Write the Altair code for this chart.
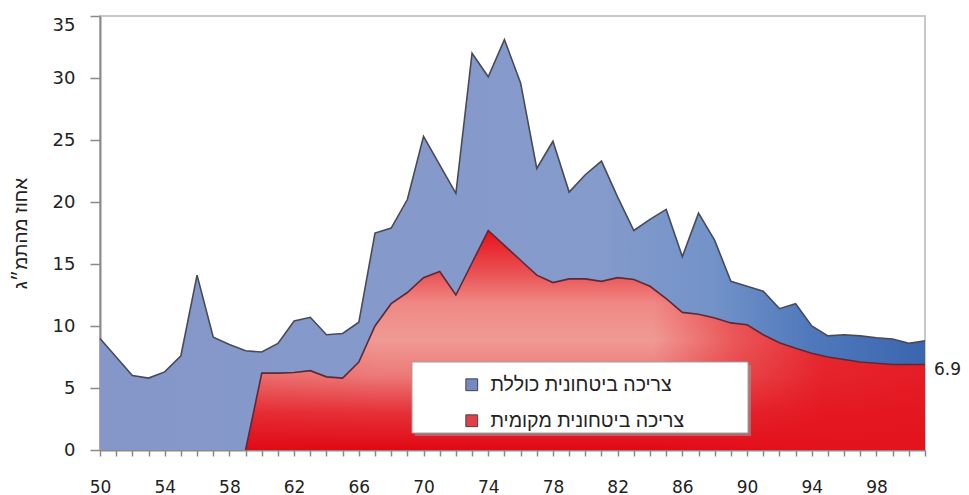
import altair as alt
import pandas as pd

# ---------------- data ----------------
years = [1950, 1951, 1952, 1953, 1954, 1955, 1956, 1957, 1958, 1959,
         1960, 1961, 1962, 1963, 1964, 1965, 1966, 1967, 1968, 1969,
         1970, 1971, 1972, 1973, 1974, 1975, 1976, 1977, 1978, 1979,
         1980, 1981, 1982, 1983, 1984, 1985, 1986, 1987, 1988, 1989,
         1990, 1991, 1992, 1993, 1994, 1995, 1996, 1997, 1998, 1999,
         2000, 2001]

# total defence consumption (% of GDP)
total = [9.0, 7.5, 6.0, 5.8, 6.3, 7.6, 14.1, 9.1, 8.5, 8.0,
         7.9, 8.6, 10.4, 10.7, 9.3, 9.4, 10.3, 17.5, 17.9, 20.2,
         25.3, 23.0, 20.7, 32.0, 30.1, 33.1, 29.6, 22.7, 24.9, 20.8,
         22.2, 23.3, 20.4, 17.7, 18.6, 19.4, 15.6, 19.1, 16.9, 13.6,
         13.2, 12.8, 11.4, 11.8, 10.0, 9.2, 9.3, 9.2, 9.05, 8.95,
         8.6, 8.8]

# local defence consumption (% of GDP)
local = [None, None, None, None, None, None, None, None, None, 0.0,
         6.2, 6.2, 6.25, 6.4, 5.9, 5.8, 7.1, 10.0, 11.8, 12.7,
         13.9, 14.4, 12.5, 15.1, 17.7, 16.5, 15.3, 14.1, 13.5, 13.8,
         13.8, 13.6, 13.9, 13.75, 13.2, 12.2, 11.1, 10.95, 10.65, 10.25,
         10.1, 9.3, 8.65, 8.2, 7.8, 7.5, 7.3, 7.1, 7.0, 6.9,
         6.9, 6.9]

series_names = ["צריכה ביטחונית כוללת", "צריכה ביטחונית מקומית"]
series_colors = ["#7489c0", "#e04048"]
x_label_years = [1950, 1954, 1958, 1962, 1966, 1970, 1974, 1978, 1982,
                 1986, 1990, 1994, 1998]
y_ticks = [0, 5, 10, 15, 20, 25, 30, 35]
y_title = "אחוז מהתמ״ג"
end_label = "6.9"

# ---------------- tables ----------------
df = pd.DataFrame({"year": years, "total": total, "local": local})
df_local = df.dropna(subset=["local"])
long_rows = []
for y_, t_, l_ in zip(years, total, local):
    long_rows.append({"year": y_, "value": t_, "series": series_names[0]})
    if l_ is not None:
        long_rows.append({"year": y_, "value": l_, "series": series_names[1]})
df_long = pd.DataFrame(long_rows)
df_end = pd.DataFrame({"year": [years[-1]], "local": [local[-1]], "label": [end_label]})

# ---------------- scales / axes ----------------
label_expr = ("indexof([" + ",".join(str(v) for v in x_label_years) +
              "], datum.value) >= 0 ? slice(toString(datum.value), 2) : ''")

x_axis = alt.Axis(values=years, labelExpr=label_expr, grid=False, title=None,
                  tickSize=6, tickColor="#8a8a8a", tickWidth=1.5,
                  domainColor="#8a8a8a", domainWidth=2,
                  labelFont="DejaVu Sans", labelFontSize=17, labelColor="#222222",
                  labelPadding=23, labelFlush=False, labelOverlap=False)
y_axis = alt.Axis(values=y_ticks, grid=False, title=y_title,
                  tickSize=10, tickColor="#8a8a8a", tickWidth=1.5,
                  domainColor="#8a8a8a", domainWidth=2,
                  labelFont="DejaVu Sans", labelFontSize=18, labelColor="#222222",
                  labelPadding=15,
                  labelBaseline={"condition": {"test": f"datum.value == {y_ticks[-1]}",
                                               "value": "top"},
                                 "value": "middle"},
                  titleFont="Liberation Sans", titleFontSize=19, titleFontWeight="normal",
                  titleColor="#222222", titleAngle=-90, titleX=-80, titleY=217,
                  titleAlign="center", titleBaseline="middle")

x_scale = alt.Scale(domain=[years[0], years[-1]], nice=False, zero=False)
y_scale = alt.Scale(domain=[0, 35], nice=False)

X = alt.X("year:Q", scale=x_scale, axis=x_axis)

blue_grad = alt.LinearGradient(
    gradient="linear", x1=0, y1=0, x2=1, y2=0,
    stops=[alt.GradientStop(offset=0, color="#8597c9"),
           alt.GradientStop(offset=0.6, color="#859bcb"),
           alt.GradientStop(offset=0.74, color="#7393c9"),
           alt.GradientStop(offset=0.86, color="#5079bc"),
           alt.GradientStop(offset=1, color="#3a66b0")])

red_vgrad = alt.LinearGradient(
    gradient="linear", x1=0, y1=0, x2=0, y2=1,
    stops=[alt.GradientStop(offset=0, color="#e8101c"),
           alt.GradientStop(offset=0.2, color="#ea5456"),
           alt.GradientStop(offset=0.33, color="#ef8884"),
           alt.GradientStop(offset=0.5, color="#f09a94"),
           alt.GradientStop(offset=0.66, color="#ec7a78"),
           alt.GradientStop(offset=0.83, color="#e53038"),
           alt.GradientStop(offset=1, color="#e00814")])

red_hgrad = alt.LinearGradient(
    gradient="linear", x1=0, y1=0, x2=1, y2=0,
    stops=[alt.GradientStop(offset=0, color="rgba(228,20,30,0.15)"),
           alt.GradientStop(offset=0.2, color="rgba(228,20,30,0)"),
           alt.GradientStop(offset=0.6, color="rgba(228,20,30,0)"),
           alt.GradientStop(offset=0.72, color="rgba(228,20,30,0.5)"),
           alt.GradientStop(offset=0.85, color="rgba(228,20,30,0.85)"),
           alt.GradientStop(offset=1, color="rgba(228,20,30,0.92)")])

base = alt.Chart(df)

blue_area = base.mark_area(fill=blue_grad, line=False).encode(
    x=X, y=alt.Y("total:Q", scale=y_scale, axis=y_axis, stack=None))
blue_line = base.mark_line(color="#4a4a55", strokeWidth=1.6).encode(
    x=X, y=alt.Y("total:Q", scale=y_scale, axis=y_axis, stack=None))

red_base = alt.Chart(df_local)
red_area = red_base.mark_area(fill=red_vgrad, line=False).encode(
    x=X, y=alt.Y("local:Q", scale=y_scale, axis=y_axis, stack=None))
red_area2 = red_base.mark_area(fill=red_hgrad, line=False).encode(
    x=X, y=alt.Y("local:Q", scale=y_scale, axis=y_axis, stack=None))
red_line = red_base.mark_line(color="#5a2a38", strokeWidth=1.6).encode(
    x=X, y=alt.Y("local:Q", scale=y_scale, axis=y_axis, stack=None))

box_data = alt.Data(values=[{"k": 1}])
legend_shadow = alt.Chart(box_data).mark_rect(fill="#9a9a9a", opacity=0.6).encode(
    x=alt.value(315), x2=alt.value(651), y=alt.value(349), y2=alt.value(420))
legend_box = alt.Chart(box_data).mark_rect(fill="white", stroke="#a0a0a0", strokeWidth=1).encode(
    x=alt.value(312), x2=alt.value(648), y=alt.value(346), y2=alt.value(417))

legend_layer = alt.Chart(df_long).mark_square(opacity=0).encode(
    x=X,
    y=alt.Y("value:Q", scale=y_scale, axis=y_axis, stack=None),
    color=alt.Color("series:N",
                    scale=alt.Scale(domain=series_names, range=series_colors),
                    sort=series_names,
                    legend=alt.Legend(orient="none", legendX=362, legendY=359,
                                      direction="vertical", title=None,
                                      symbolType="square", symbolSize=140,
                                      symbolOpacity=1, symbolStrokeColor="#444444",
                                      symbolStrokeWidth=1,
                                      labelFont="Liberation Sans", labelFontSize=19.5,
                                      labelColor="#222222", labelOffset=9,
                                      rowPadding=15, padding=0, labelLimit=400)))

end_text = alt.Chart(df_end).mark_text(align="left", baseline="middle", dx=9, dy=6,
                                       font="DejaVu Sans", fontSize=17,
                                       color="#222222").encode(
    x=X, y=alt.Y("local:Q", scale=y_scale, axis=y_axis), text="label:N")

chart = alt.layer(
    blue_area, blue_line, red_area, red_area2, red_line,
    legend_shadow, legend_box, legend_layer, end_text
).properties(
    width=825, height=434,
    padding={"left": 92, "top": 8, "right": 36, "bottom": 45},
    autosize=alt.AutoSizeParams(type="none"),
    background="white"
).configure_view(stroke="#c8c8c8", strokeWidth=2)

chart.save("out.html", embed_options={"renderer": "svg", "actions": False})
